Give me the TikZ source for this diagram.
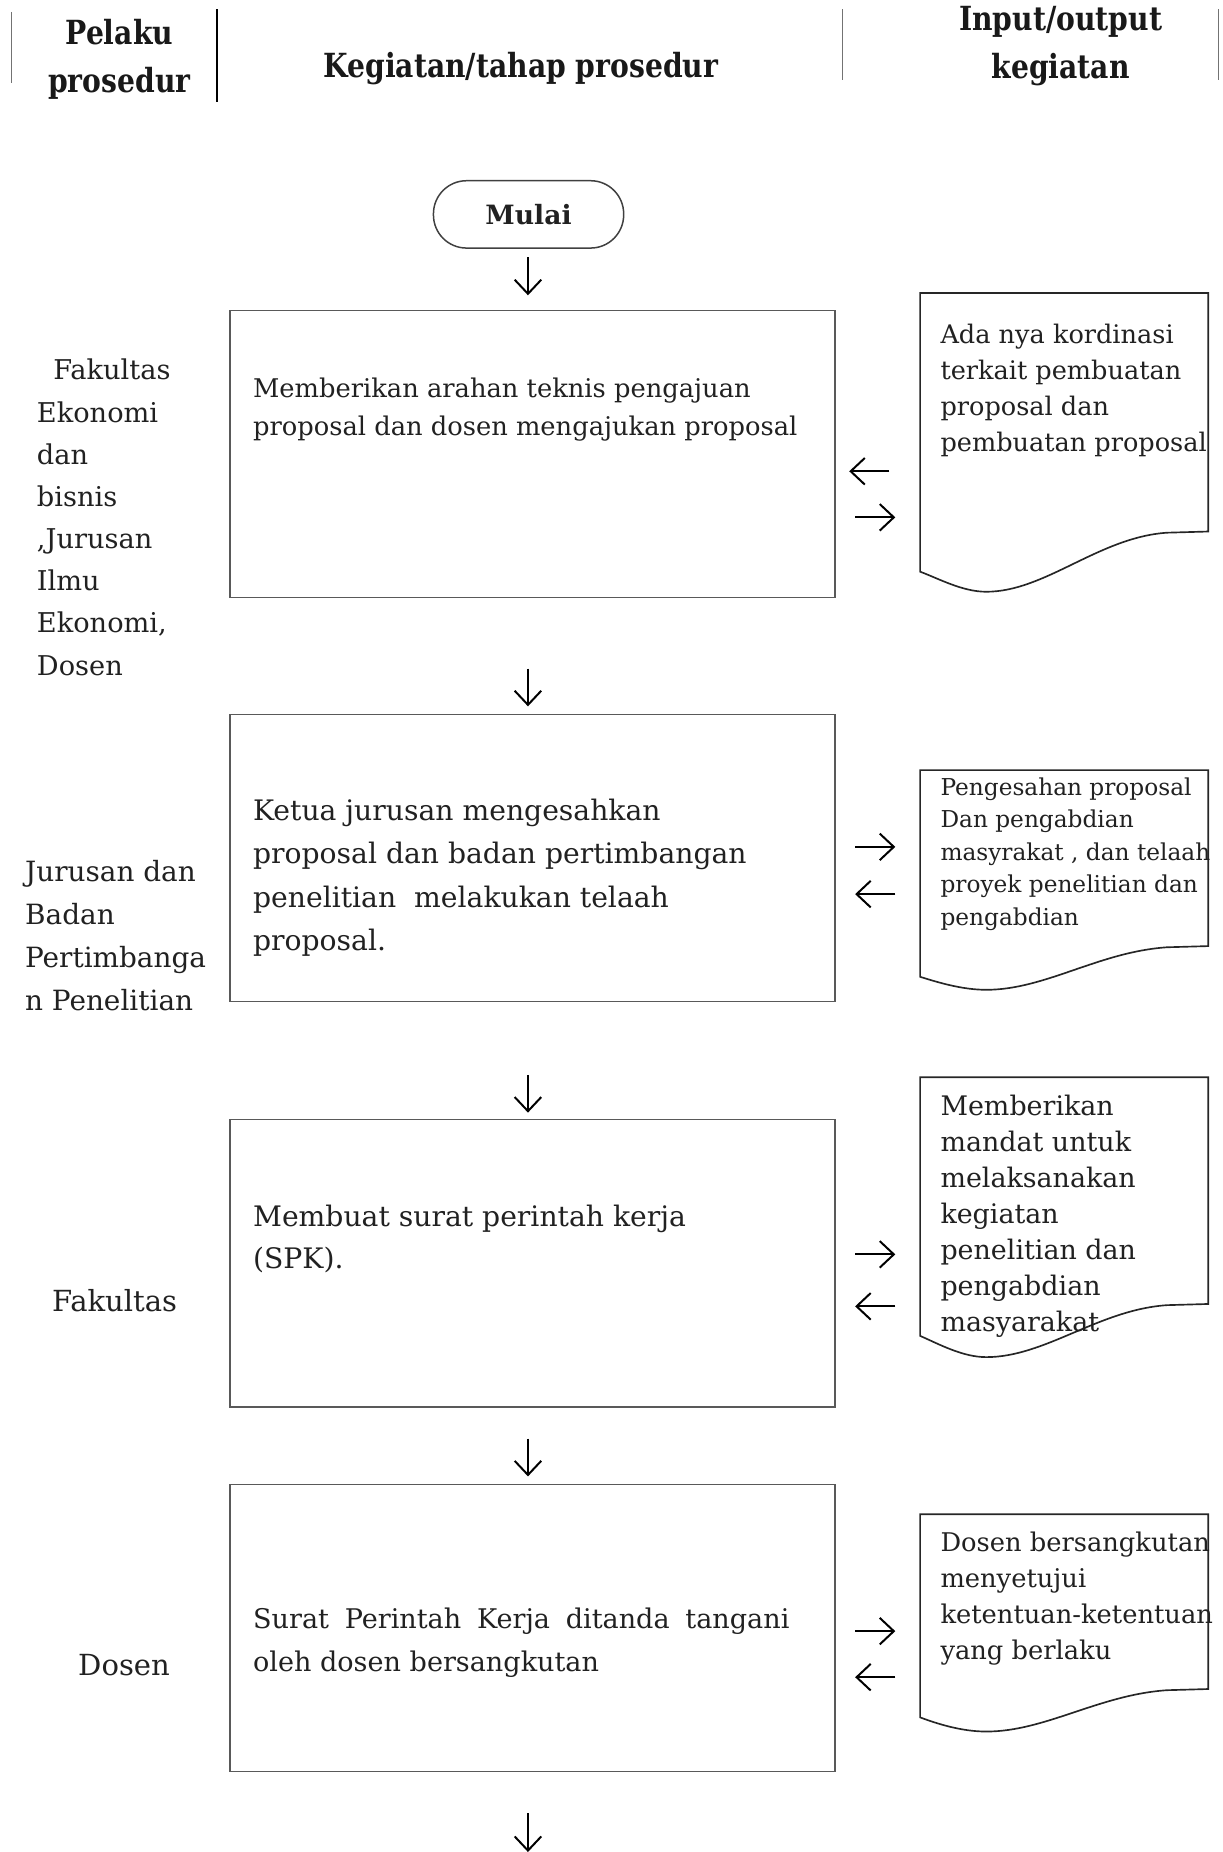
\documentclass[tikz,border=0pt]{standalone}
\usepackage{fontspec}
\setmainfont{DejaVu Serif}
\newfontfamily\headfont[FakeStretch=0.85]{DejaVu Serif}
\usetikzlibrary{arrows.meta}
\begin{document}
\begin{tikzpicture}[x=0.025cm,y=-0.025cm]
\tikzstyle{stepbox}=[draw=black!65,line width=0.9pt,minimum width=12.8cm,minimum height=6.075cm,inner sep=0pt]
\tikzstyle{steptext}=[anchor=west,align=left,inner sep=0pt,text=black!87,font=\fontsize{15.5}{22.8}\selectfont]
\tikzstyle{doctext}=[anchor=west,align=left,inner sep=0pt,text=black!87,font=\fontsize{15.4}{21.7}\selectfont]
\tikzstyle{actor}=[align=left,inner sep=0pt,text=black!87,font=\fontsize{16.4}{25.4}\selectfont]
\tikzstyle{head}=[align=center,inner sep=0pt,text=black!90,font=\headfont\bfseries\fontsize{20}{29}\selectfont]
\tikzstyle{terminal}=[draw=black!75,line width=0.9pt,rounded corners=0.7cm,minimum width=4.025cm,minimum height=1.425cm,font=\bfseries\fontsize{16}{19}\selectfont,text=black!87]
\tikzstyle{pointer}=[draw=black,line width=1.2pt,-{Straight Barb[length=8.5pt,width=16pt]}]
\tikzstyle{docpage}=[draw=black!85,line width=1pt]
\useasboundingbox (0,0) rectangle (1035,1568);

\draw[black!55,line width=0.6pt] (10,10) -- (10,70);
\draw[black,line width=1.2pt] (184,8) -- (184,86);
\draw[black!55,line width=0.6pt] (713,8) -- (713,68);
\draw[black!55,line width=0.6pt] (1032,8) -- (1032,68);
\node[head] (hpelaku) at (101,50.5) {Pelaku\\prosedur};
\node[head] (hkegiatan) at (441,58) {Kegiatan/tahap prosedur};
\node[head] (hio) at (898,39) {Input/output\\kegiatan};

\node[terminal] (mulai) at (447.5,181.5) {Mulai};

\node[stepbox] (box1) at (451,384.5) {};
\node[stepbox] (box2) at (451,726.5) {};
\node[stepbox] (box3) at (451,1069.5) {};
\node[stepbox] (box4) at (451,1378.5) {};
\node[steptext] (txt1) at (214,347) {Memberikan arahan teknis pengajuan\\proposal dan dosen mengajukan proposal};
\node[steptext,font=\fontsize{17}{26.1}\selectfont] (txt2) at (214,743) {Ketua jurusan mengesahkan\\proposal dan badan pertimbangan\\penelitian \ melakukan telaah\\proposal.};
\node[steptext,font=\fontsize{17}{25.6}\selectfont] (txt3) at (214,1049) {Membuat surat perintah kerja\\(SPK).};
\node[steptext,font=\fontsize{16.3}{25.6}\selectfont] (txt4) at (214,1391) {\makebox[11.35cm][s]{Surat Perintah Kerja ditanda tangani}\\oleh dosen bersangkutan};

\node[actor,anchor=west] (act1) at (31,438) {\hspace*{0.6em}Fakultas\\Ekonomi\\dan\\bisnis\\,Jurusan\\Ilmu\\Ekonomi,\\Dosen};
\node[actor,anchor=west,font=\fontsize{16.8}{25.9}\selectfont] (act2) at (21,792) {Jurusan dan\\Badan\\Pertimbanga\\n Penelitian};
\node[actor,font=\fontsize{17.5}{21}\selectfont] (act3) at (97,1101) {Fakultas};
\node[actor,font=\fontsize{17.5}{21}\selectfont] (act4) at (105,1410) {Dosen};

\draw[docpage] (779,248) -- (1023,248) -- (1023,450) -- (988,451) .. controls (930,455) and (885,501) .. (835,501) .. controls (815,501) and (795,490) .. (779,484) -- cycle;
\draw[docpage] (779,652) -- (1023,652) -- (1023,801) -- (988,802) .. controls (930,806) and (885,838) .. (835,838) .. controls (815,838) and (795,832) .. (779,827) -- cycle;
\draw[docpage] (779,912) -- (1023,912) -- (1023,1104) -- (988,1105) .. controls (930,1109) and (885,1149) .. (835,1149) .. controls (815,1149) and (795,1138) .. (779,1131) -- cycle;
\draw[docpage] (779,1282) -- (1023,1282) -- (1023,1430) -- (988,1431) .. controls (930,1435) and (885,1466) .. (835,1466) .. controls (815,1466) and (795,1460) .. (779,1454) -- cycle;
\node[doctext] (doc1) at (796,330.5) {Ada nya kordinasi\\terkait pembuatan\\proposal dan\\pembuatan proposal};
\node[doctext,font=\fontsize{14}{19.6}\selectfont] (doc2) at (796,723) {Pengesahan proposal\\Dan pengabdian\\masyrakat , dan telaah\\proyek penelitian dan\\pengabdian};
\node[doctext,font=\fontsize{16.2}{21.7}\selectfont] (doc3) at (796,1029.5) {Memberikan\\mandat untuk\\melaksanakan\\kegiatan\\penelitian dan\\pengabdian\\masyarakat};
\node[doctext,font=\fontsize{15.5}{21.7}\selectfont] (doc4) at (796,1353.5) {Dosen bersangkutan\\menyetujui\\ketentuan-ketentuan\\yang berlaku};

\coordinate (v1a) at (447,218); \coordinate (v1b) at (447,250);
\coordinate (v2a) at (447,566); \coordinate (v2b) at (447,598);
\coordinate (v3a) at (447,910); \coordinate (v3b) at (447,942);
\coordinate (v4a) at (447,1218); \coordinate (v4b) at (447,1250);
\coordinate (v5a) at (447,1535); \coordinate (v5b) at (447,1568);
\draw[pointer] (v1a) -- (v1b);
\draw[pointer] (v2a) -- (v2b);
\draw[pointer] (v3a) -- (v3b);
\draw[pointer] (v4a) -- (v4b);
\draw[pointer] (v5a) -- (v5b);

\coordinate (i1a) at (753,399); \coordinate (i1b) at (719,399);
\coordinate (o1a) at (724,438); \coordinate (o1b) at (758,438);
\coordinate (i2a) at (724,717); \coordinate (i2b) at (758,717);
\coordinate (o2a) at (758,757); \coordinate (o2b) at (724,757);
\coordinate (i3a) at (724,1062); \coordinate (i3b) at (758,1062);
\coordinate (o3a) at (758,1106); \coordinate (o3b) at (724,1106);
\coordinate (i4a) at (724,1381); \coordinate (i4b) at (758,1381);
\coordinate (o4a) at (758,1420); \coordinate (o4b) at (724,1420);
\draw[pointer] (i1a) -- (i1b);
\draw[pointer] (o1a) -- (o1b);
\draw[pointer] (i2a) -- (i2b);
\draw[pointer] (o2a) -- (o2b);
\draw[pointer] (i3a) -- (i3b);
\draw[pointer] (o3a) -- (o3b);
\draw[pointer] (i4a) -- (i4b);
\draw[pointer] (o4a) -- (o4b);
\end{tikzpicture}
\end{document}
